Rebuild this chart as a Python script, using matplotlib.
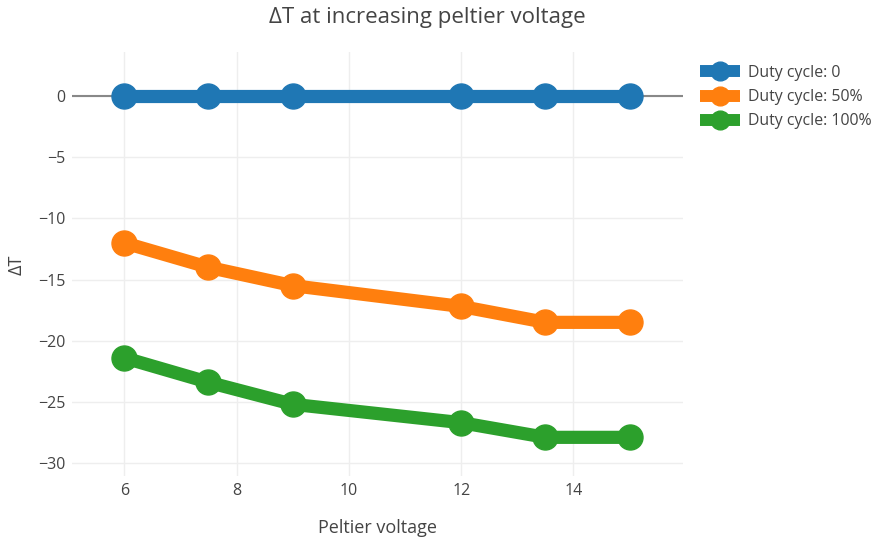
import matplotlib
matplotlib.use("Agg")
import matplotlib.pyplot as plt
from matplotlib.lines import Line2D

plt.rcParams['font.family'] = ['Open Sans', 'DejaVu Sans']

voltage = [6, 7.5, 9, 12, 13.5, 15]
dc0 = [0, 0, 0, 0, 0, 0]
dc50 = [-12, -14, -15.5, -17.2, -18.5, -18.5]
dc100 = [-21.4, -23.4, -25.2, -26.7, -27.9, -27.9]
series_names = ["Duty cycle: 0", "Duty cycle: 50%", "Duty cycle: 100%"]
colors = ["#1f77b4", "#ff7f0e", "#2ca02c"]
xticks = [6, 8, 10, 12, 14]
yticks = [0, -5, -10, -15, -20, -25, -30]

W, H = 876, 545
fig = plt.figure(figsize=(W/100, H/100), dpi=100)
ax = fig.add_axes([72/W, 1-476/H, (683-72)/W, (476-52)/H])

ax.axhline(0, color="#888888", lw=1.5, zorder=1)
for ys, c, n in zip([dc0, dc50, dc100], colors, series_names):
    ax.plot(voltage, ys, color=c, lw=9.5, marker='o', ms=18, label=n, zorder=3,
            solid_capstyle='butt')

ax.set_xlim(5.07, 15.95)
ax.set_ylim(-31.06, 3.6)
ax.set_xticks(xticks)
ax.set_yticks(yticks)
ax.set_yticklabels([str(t).replace('-', '\u2212') for t in yticks])
ax.grid(True, color="#eeeeee", lw=1)
ax.set_axisbelow(True)
for s in ax.spines.values():
    s.set_visible(False)
ax.tick_params(length=0, colors="#444444", labelsize=11.5, pad=5)

fig.text(427/W, 1-17/H, "ΔT at increasing peltier voltage", ha='center', va='center',
         fontsize=16, color="#444444")
fig.text(377/W, 1-528/H, "Peltier voltage", ha='center', va='center',
         fontsize=13, color="#444444")
fig.text(17/W, 1-265/H, "ΔT", ha='center', va='center', rotation=90,
         fontsize=13, color="#444444")

handles = [Line2D([0], [0], color=c, lw=8.6, marker='o', ms=13.5, solid_capstyle='butt')
           for c in colors]
leg = fig.legend(handles, series_names, loc='upper left', bbox_to_anchor=(700/W, 1-65/H),
                 frameon=False, fontsize=11.4, handlelength=2.5, labelspacing=0.52,
                 handletextpad=0.5, borderaxespad=0, borderpad=0)
for t in leg.get_texts():
    t.set_color("#444444")

fig.savefig("out.png", dpi=100)
